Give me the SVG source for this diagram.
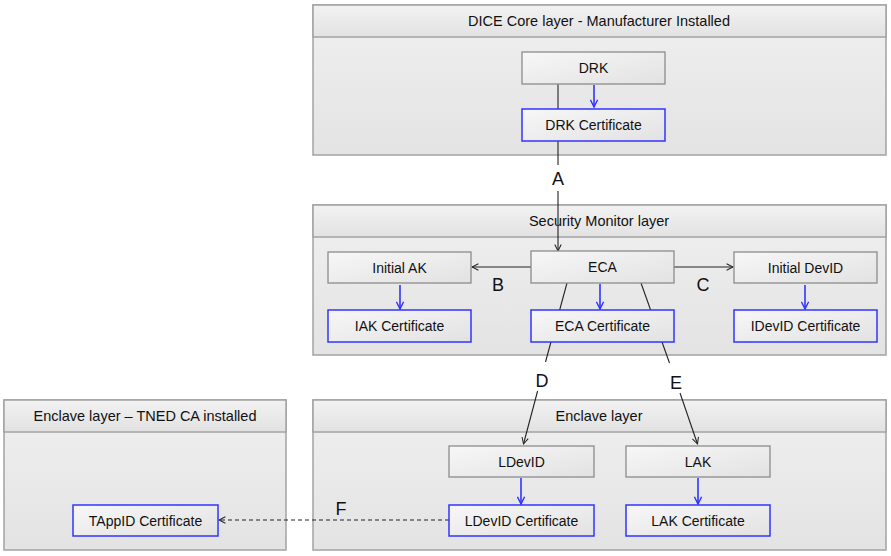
<svg xmlns="http://www.w3.org/2000/svg" width="891" height="556" viewBox="0 0 891 556">
<defs>
<linearGradient id="gNode" x1="0" y1="0" x2="1" y2="1">
<stop offset="0" stop-color="#f7f7f7"/>
<stop offset="1" stop-color="#e2e2e2"/>
</linearGradient>
<linearGradient id="gHead" x1="0" y1="0" x2="0" y2="1">
<stop offset="0" stop-color="#f2f2f2"/>
<stop offset="1" stop-color="#e2e2e2"/>
</linearGradient>
<linearGradient id="gBody" x1="0" y1="0" x2="0" y2="1">
<stop offset="0" stop-color="#f0f0f0"/>
<stop offset="1" stop-color="#e3e3e3"/>
</linearGradient>
<marker id="ak" viewBox="0 0 10 10" refX="9" refY="5" markerWidth="8" markerHeight="8" markerUnits="userSpaceOnUse" orient="auto">
<path d="M1,1 L9,5 L1,9" fill="none" stroke="#222" stroke-width="1.3"/>
</marker>
<marker id="ab" viewBox="0 0 10 10" refX="9" refY="5" markerWidth="9" markerHeight="9" markerUnits="userSpaceOnUse" orient="auto">
<path d="M1,1 L9,5 L1,9" fill="none" stroke="#3333ff" stroke-width="1.6"/>
</marker>
</defs>
<style>
text{font-family:"Liberation Sans",Arial,sans-serif;fill:#111;text-anchor:middle;}
.lt{font-size:14.5px;}
.nt{font-size:14px;}
.lb{font-size:18px;}
.body{fill:url(#gBody);stroke:#a3a3a3;stroke-width:1.5;}
.head{fill:url(#gHead);stroke:#a3a3a3;stroke-width:1.5;}
.n{fill:url(#gNode);stroke:#8c8c8c;stroke-width:1.3;}
.c{fill:url(#gNode);stroke:#3333ff;stroke-width:1.5;}
.k{stroke:#222;stroke-width:1.1;fill:none;}
.b{stroke:#3333ff;stroke-width:1.6;fill:none;}
.d{stroke:#222;stroke-width:1.1;fill:none;stroke-dasharray:4,3;}
</style>

<g id="layer-dice">
<rect class="body" x="313" y="5" width="573" height="150"/>
<rect class="head" x="313" y="5" width="573" height="32"/>
<text class="lt" x="599" y="26">DICE Core layer - Manufacturer Installed</text>
</g>
<g id="layer-sm">
<rect class="body" x="313" y="205" width="573" height="150"/>
<rect class="head" x="313" y="205" width="573" height="32"/>
<text class="lt" x="599" y="226">Security Monitor layer</text>
</g>
<g id="layer-enclave-tned">
<rect class="body" x="4" y="400" width="282" height="150"/>
<rect class="head" x="4" y="400" width="282" height="32"/>
<text class="lt" x="145" y="421">Enclave layer – TNED CA installed</text>
</g>
<g id="layer-enclave">
<rect class="body" x="313" y="400" width="573" height="150"/>
<rect class="head" x="313" y="400" width="573" height="32"/>
<text class="lt" x="599" y="421">Enclave layer</text>
</g>

<g id="connectors">
<line class="k" x1="558" y1="84" x2="558" y2="165"/>
<line class="k" x1="558" y1="191" x2="558" y2="251" marker-end="url(#ak)"/>
<text class="lb" x="558" y="185">A</text>
<line class="k" x1="531" y1="267" x2="472" y2="267" marker-end="url(#ak)"/>
<text class="lb" x="498" y="291">B</text>
<line class="k" x1="674" y1="267" x2="733" y2="267" marker-end="url(#ak)"/>
<text class="lb" x="703" y="291">C</text>
<line class="k" x1="567" y1="283" x2="545.5" y2="362"/>
<line class="k" x1="537.6" y1="391" x2="523.5" y2="444" marker-end="url(#ak)"/>
<text class="lb" x="542" y="387">D</text>
<line class="k" x1="641" y1="283" x2="669.5" y2="363"/>
<line class="k" x1="680" y1="393" x2="697.5" y2="444" marker-end="url(#ak)"/>
<text class="lb" x="676" y="389">E</text>
<line class="d" x1="449" y1="520" x2="219" y2="520" marker-end="url(#ak)"/>
<text class="lb" x="341" y="515">F</text>
<line class="b" x1="594" y1="85" x2="594" y2="107" marker-end="url(#ab)"/>
<line class="b" x1="400" y1="285" x2="400" y2="309" marker-end="url(#ab)"/>
<line class="b" x1="600" y1="284" x2="600" y2="309" marker-end="url(#ab)"/>
<line class="b" x1="805" y1="285" x2="805" y2="309" marker-end="url(#ab)"/>
<line class="b" x1="521" y1="478" x2="521" y2="504" marker-end="url(#ab)"/>
<line class="b" x1="698" y1="478" x2="698" y2="504" marker-end="url(#ab)"/>
</g>

<g id="drk"><rect class="n" x="522" y="52" width="143" height="32"/><text class="nt" x="593.5" y="73">DRK</text></g>
<g id="drk-cert"><rect class="c" x="522" y="109" width="143" height="32"/><text class="nt" x="593.5" y="130">DRK Certificate</text></g>
<g id="initial-ak"><rect class="n" x="328" y="252" width="143" height="31"/><text class="nt" x="399.5" y="272.5">Initial AK</text></g>
<g id="iak-cert"><rect class="c" x="328" y="310" width="143" height="32"/><text class="nt" x="399.5" y="331">IAK Certificate</text></g>
<g id="eca"><rect class="n" x="531" y="251" width="143" height="32"/><text class="nt" x="602.5" y="272">ECA</text></g>
<g id="eca-cert"><rect class="c" x="531" y="310" width="143" height="32"/><text class="nt" x="602.5" y="331">ECA Certificate</text></g>
<g id="initial-devid"><rect class="n" x="734" y="252" width="143" height="31"/><text class="nt" x="805.5" y="272.5">Initial DevID</text></g>
<g id="idevid-cert"><rect class="c" x="734" y="310" width="143" height="32"/><text class="nt" x="805.5" y="331">IDevID Certificate</text></g>
<g id="ldevid"><rect class="n" x="449" y="446" width="145" height="31"/><text class="nt" x="521.5" y="466.5">LDevID</text></g>
<g id="ldevid-cert"><rect class="c" x="449" y="505" width="145" height="31"/><text class="nt" x="521.5" y="525.5">LDevID Certificate</text></g>
<g id="lak"><rect class="n" x="626" y="446" width="144" height="31"/><text class="nt" x="698" y="466.5">LAK</text></g>
<g id="lak-cert"><rect class="c" x="626" y="505" width="144" height="31"/><text class="nt" x="698" y="525.5">LAK Certificate</text></g>
<g id="tappid-cert"><rect class="c" x="73" y="505" width="145" height="31"/><text class="nt" x="145.5" y="525.5">TAppID Certificate</text></g>
</svg>
